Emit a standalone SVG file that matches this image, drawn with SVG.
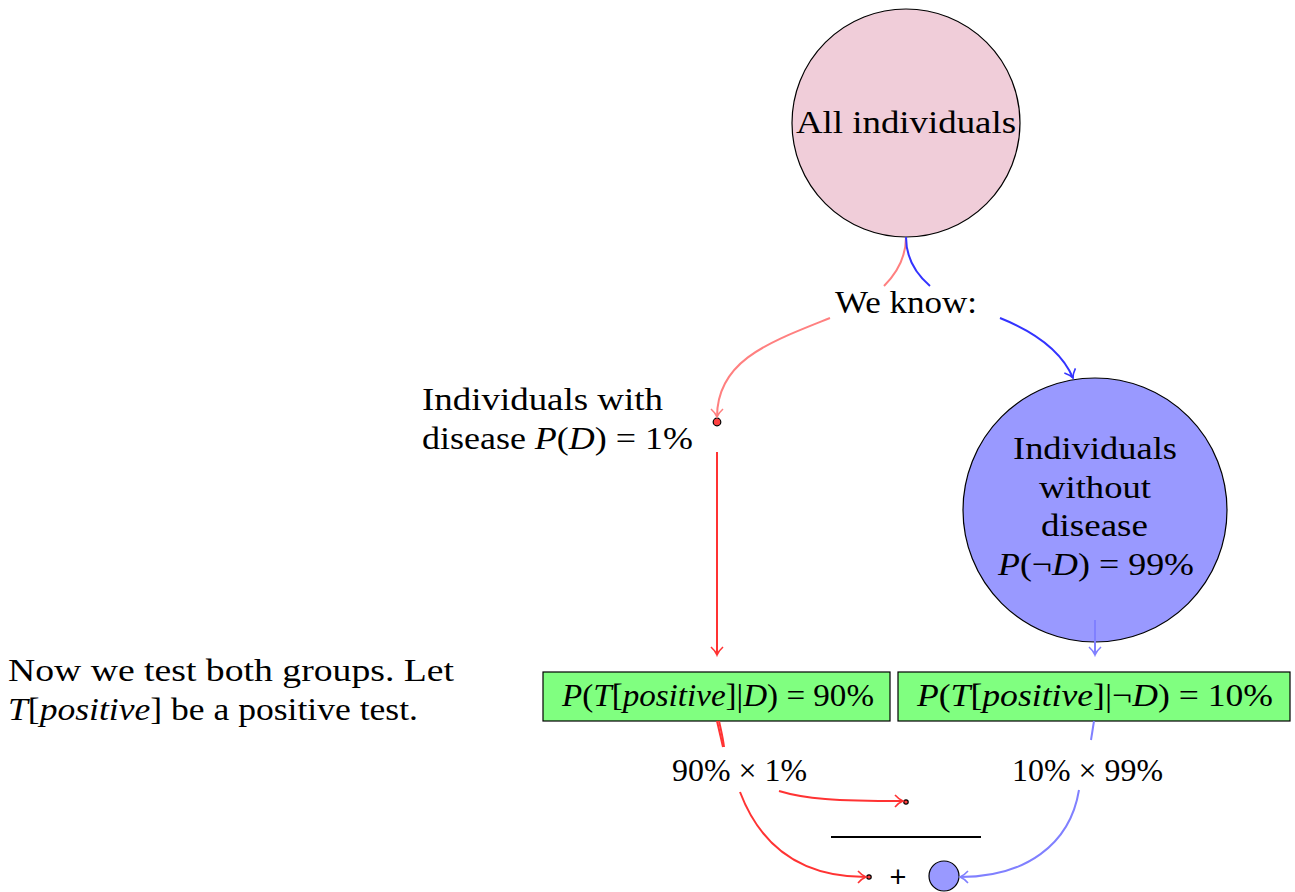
<svg xmlns="http://www.w3.org/2000/svg" width="1295" height="892" viewBox="0 0 1295 892">
<style>
text{font-family:"Liberation Serif","Times New Roman",serif;fill:#000}
.t{font-size:31px}
.m{font-size:31px}
.i{font-style:italic}
.node{stroke:#000;stroke-width:1.2}
.e{fill:none;stroke-width:2}
</style>
<defs>
<marker id="aLR" markerUnits="userSpaceOnUse" markerWidth="16" markerHeight="16" refX="12" refY="8" orient="auto" viewBox="0 0 16 16"><path d="M4,2 Q8,6.5 12,8 Q8,9.5 4,14" fill="none" stroke="#ff8080" stroke-width="1.6"/></marker>
<marker id="aB" markerUnits="userSpaceOnUse" markerWidth="16" markerHeight="16" refX="12" refY="8" orient="auto" viewBox="0 0 16 16"><path d="M4,2 Q8,6.5 12,8 Q8,9.5 4,14" fill="none" stroke="#3333ff" stroke-width="1.6"/></marker>
<marker id="aR" markerUnits="userSpaceOnUse" markerWidth="16" markerHeight="16" refX="12" refY="8" orient="auto" viewBox="0 0 16 16"><path d="M4,2 Q8,6.5 12,8 Q8,9.5 4,14" fill="none" stroke="#ff3333" stroke-width="1.6"/></marker>
<marker id="aLB" markerUnits="userSpaceOnUse" markerWidth="16" markerHeight="16" refX="12" refY="8" orient="auto" viewBox="0 0 16 16"><path d="M4,2 Q8,6.5 12,8 Q8,9.5 4,14" fill="none" stroke="#8080ff" stroke-width="1.6"/></marker>
</defs>

<g id="all">
  <circle class="node" cx="906" cy="123" r="114" fill="#f0cdd9"/>
  <text class="t" x="796" y="133" textLength="220" lengthAdjust="spacingAndGlyphs">All individuals</text>
</g>

<g id="weknow">
  <text class="t" x="835" y="313" textLength="142" lengthAdjust="spacingAndGlyphs">We know:</text>
</g>

<g id="with">
  <circle class="node" cx="717" cy="422" r="3.8" fill="#ff4040"/>
  <text class="t" x="422" y="410" textLength="241" lengthAdjust="spacingAndGlyphs">Individuals with</text>
  <text class="t" x="422" y="449" textLength="271" lengthAdjust="spacingAndGlyphs">disease <tspan class="i">P</tspan>(<tspan class="i">D</tspan>) = 1%</text>
</g>

<g id="without">
  <circle class="node" cx="1095" cy="510" r="132" fill="#9999ff"/>
  <text class="t" x="1013" y="459" textLength="164" lengthAdjust="spacingAndGlyphs">Individuals</text>
  <text class="t" x="1039" y="498" textLength="112" lengthAdjust="spacingAndGlyphs">without</text>
  <text class="t" x="1041" y="536" textLength="107" lengthAdjust="spacingAndGlyphs">disease</text>
  <text class="m" x="998" y="575" textLength="196" lengthAdjust="spacingAndGlyphs"><tspan class="i">P</tspan>(¬<tspan class="i">D</tspan>) = 99%</text>
</g>

<g id="note">
  <text class="t" x="8" y="681" textLength="446" lengthAdjust="spacingAndGlyphs">Now we test both groups. Let</text>
  <text class="t" x="8" y="720" textLength="410" lengthAdjust="spacingAndGlyphs"><tspan class="i">T</tspan>[<tspan class="i">positive</tspan>] be a positive test.</text>
</g>

<g id="boxD">
  <rect class="node" x="543" y="672" width="347" height="49" fill="#80ff80"/>
  <text class="m" x="562" y="706" textLength="312" lengthAdjust="spacingAndGlyphs"><tspan class="i">P</tspan>(<tspan class="i">T</tspan>[<tspan class="i">positive</tspan>]|<tspan class="i">D</tspan>) = 90%</text>
</g>

<g id="boxND">
  <rect class="node" x="898" y="672" width="392" height="49" fill="#80ff80"/>
  <text class="m" x="917" y="706" textLength="356" lengthAdjust="spacingAndGlyphs"><tspan class="i">P</tspan>(<tspan class="i">T</tspan>[<tspan class="i">positive</tspan>]|¬<tspan class="i">D</tspan>) = 10%</text>
</g>

<g id="prodD">
  <text class="m" x="672" y="781" textLength="135" lengthAdjust="spacingAndGlyphs">90% × 1%</text>
</g>
<g id="prodND">
  <text class="m" x="1012" y="781" textLength="151" lengthAdjust="spacingAndGlyphs">10% × 99%</text>
</g>

<g id="formula">
  <circle class="node" cx="906" cy="802" r="2.2" fill="#ff4040"/>
  <line x1="831" y1="837" x2="981" y2="837" stroke="#000" stroke-width="2.2"/>
  <circle class="node" cx="869" cy="877" r="2.2" fill="#ff4040"/>
  <text x="898" y="887" text-anchor="middle" style="font-family:'Liberation Sans',Arial,sans-serif;font-size:29px">+</text>
  <circle class="node" cx="944" cy="876" r="15" fill="#9999ff"/>
</g>

<g id="connectors">
  <path class="e" stroke="#ff8080" d="M906,237 C906,258 896,274 884,286"/>
  <path class="e" stroke="#ff8080" d="M830,318 C770,342 717,360 717,417" marker-end="url(#aLR)"/>
  <path class="e" stroke="#3333ff" d="M906,237 C906,258 916,274 930,286"/>
  <path class="e" stroke="#3333ff" d="M1000,318 C1035,332 1062,352 1073,378" marker-end="url(#aB)"/>
  <path class="e" stroke="#ff3333" d="M717,452 L717,655" marker-end="url(#aR)"/>
  <path class="e" stroke="#8080ff" d="M1095,620 L1095,655" marker-end="url(#aLB)"/>
  <path class="e" stroke="#ff3333" d="M717,721 C719,730 721,738 723,747"/>
  <path class="e" stroke="#ff3333" d="M719,721 C721,730 723,738 724,747"/>
  <path class="e" stroke="#ff3333" d="M740,792 C762,850 805,877 866,877" marker-end="url(#aR)"/>
  <path class="e" stroke="#ff3333" d="M779,791 C805,799 835,801 903,801" marker-end="url(#aR)"/>
  <path class="e" stroke="#8080ff" d="M1094,721 L1091,740"/>
  <path class="e" stroke="#8080ff" d="M1079,790 C1070,845 1025,877 960,877" marker-end="url(#aLB)"/>
</g>
</svg>
